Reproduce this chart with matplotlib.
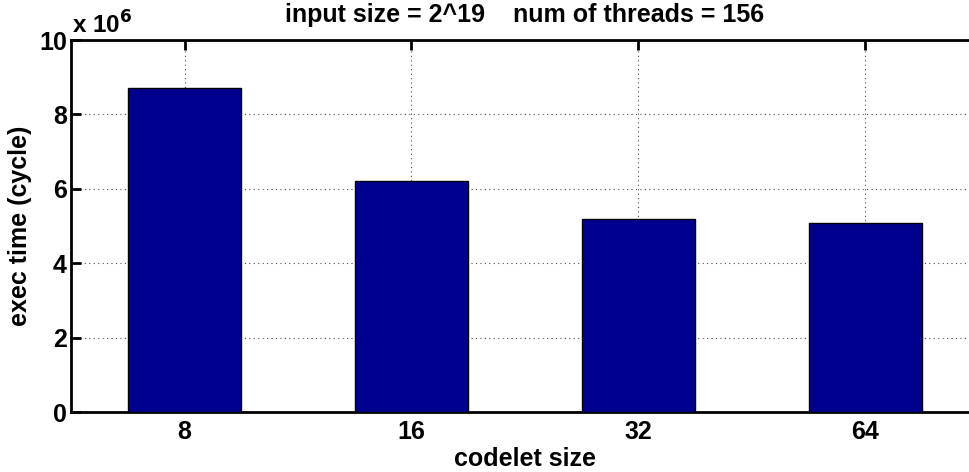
import numpy as np
import matplotlib
matplotlib.use('Agg')
import matplotlib.pyplot as plt

# data
codelet_sizes = ['8', '16', '32', '64']
exec_time = [8.72e6, 6.22e6, 5.19e6, 5.08e6]
y_ticks = [0, 2, 4, 6, 8, 10]

plt.rcParams['font.family'] = ['Liberation Sans', 'DejaVu Sans']
plt.rcParams['font.weight'] = 'bold'

fig = plt.figure(figsize=(9.7, 4.72), dpi=100)
ax = fig.add_axes([71 / 970, 60 / 472, 908 / 970, 372 / 472])

x = np.arange(1, len(codelet_sizes) + 1)
vals = np.array(exec_time) / 1e6
ax.bar(x, vals, width=0.5, color='#00008F', edgecolor='black', linewidth=1, zorder=3)

ax.set_xlim(0.5, 4.5)
ax.set_ylim(0, 10)
ax.set_xticks(x)
ax.set_xticklabels(codelet_sizes)
ax.set_yticks(y_ticks)
ax.set_yticklabels([str(t) for t in y_ticks])

ax.set_axisbelow(True)
ax.grid(True, linestyle=(0, (1, 3)), color='black', linewidth=0.8, alpha=0.7)

for s in ax.spines.values():
    s.set_linewidth(2)
ax.tick_params(direction='in', length=7, width=2, top=True, right=True,
               labelsize=18)
ax.tick_params(axis='x', pad=6)
ax.tick_params(axis='y', pad=3)
for lbl in ax.get_xticklabels() + ax.get_yticklabels():
    lbl.set_fontweight('bold')

ax.set_xlabel('codelet size', fontsize=18, fontweight='bold', labelpad=2)
ax.set_ylabel('exec time (cycle)', fontsize=18, fontweight='bold', labelpad=5)
ax.set_title('input size = 2^19    num of threads = 156', fontsize=18,
             fontweight='bold', pad=13)

fig.text(72 / 970, 1 - 34 / 472, r'x 10$^{\mathbf{6}}$', fontsize=17.5,
         fontweight='bold', ha='left', va='baseline')

fig.savefig('out.png', dpi=100)
